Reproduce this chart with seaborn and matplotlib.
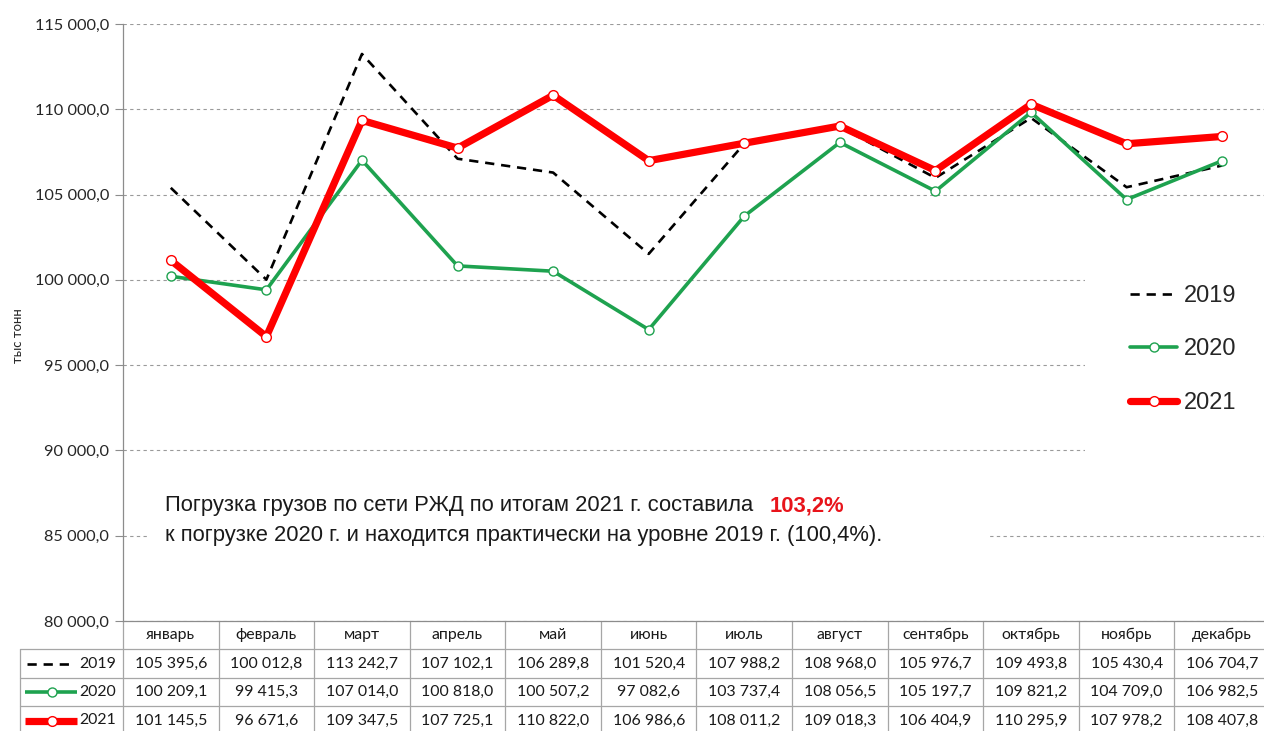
import numpy as np
import pandas as pd
import matplotlib
matplotlib.use("Agg")
import matplotlib.pyplot as plt
import seaborn as sns
from matplotlib.ticker import FuncFormatter
from matplotlib.patches import Rectangle
from matplotlib.lines import Line2D

# ---------------- data ----------------
months = ["январь", "февраль", "март", "апрель", "май", "июнь",
          "июль", "август", "сентябрь", "октябрь", "ноябрь", "декабрь"]
years = ["2019", "2020", "2021"]
v2019 = [105395.6, 100012.8, 113242.7, 107102.1, 106289.8, 101520.4,
         107988.2, 108968.0, 105976.7, 109493.8, 105430.4, 106704.7]
v2020 = [100209.1, 99415.3, 107014.0, 100818.0, 100507.2, 97082.6,
         103737.4, 108056.5, 105197.7, 109821.2, 104709.0, 106982.5]
v2021 = [101145.5, 96671.6, 109347.5, 107725.1, 110822.0, 106986.6,
         108011.2, 109018.3, 106404.9, 110295.9, 107978.2, 108407.8]
yticks = [80000, 85000, 90000, 95000, 100000, 105000, 110000, 115000]
ylabel = "тыс тонн"
note1 = "Погрузка грузов по сети РЖД по итогам 2021 г. составила"
note_pct = "103,2%"
note2 = "к погрузке 2020 г. и находится практически на уровне 2019 г. (100,4%)."

# ---------------- style ----------------
sns.set_style("white")
plt.rcParams["font.family"] = ["Lato", "DejaVu Sans"]

W, H = 1264, 731
fig = plt.figure(figsize=(W / 100, H / 100), dpi=100)

AX_L, AX_R, AX_T, AX_B = 123, 1270, 24, 621   # pixel box of the plot area
ax = fig.add_axes([AX_L / W, 1 - AX_B / H, (AX_R - AX_L) / W, (AX_B - AX_T) / H])

def fmt(v):
    return f"{v:,.1f}".replace(",", " ").replace(".", ",")

df = pd.DataFrame({"month": np.arange(len(months)),
                   "2019": v2019, "2020": v2020, "2021": v2021})

RED = "#ff0000"
GREEN = "#1ea24f"
styles = {
    "2019": dict(color="black", lw=1.9, dashes=(3.5, 2.6), marker=None),
    "2020": dict(color=GREEN, lw=2.6, marker="o", ms=6.5, mfc="white", mec=GREEN, mew=1.0),
    "2021": dict(color=RED, lw=5.2, marker="o", ms=7.0, mfc="white", mec=RED, mew=1.0),
}

for z, y in enumerate(years):
    st = styles[y]
    kw = dict(color=st["color"], linewidth=st["lw"], zorder=3 + z)
    if st["marker"]:
        kw.update(marker="o", markersize=st["ms"], markerfacecolor=st["mfc"],
                  markeredgecolor=st["mec"], markeredgewidth=st["mew"])
    sns.lineplot(data=df, x="month", y=y, ax=ax, label=y, **kw)
    if y == "2019":
        ax.lines[-1].set_dashes(st["dashes"])

ax.set_xlim(-0.5, len(months) - 0.5)
ax.set_ylim(min(yticks), max(yticks))
ax.set_yticks(yticks)
ax.yaxis.set_major_formatter(FuncFormatter(lambda v, p: fmt(v)))
ax.set_xticks([])
ax.set_xlabel("")
ax.set_ylabel("")
ax.tick_params(axis="y", length=6, width=0.8, color="#8c8c8c", labelsize=11.8,
               labelcolor="#262626", pad=4, left=True)
for s in ["top", "right"]:
    ax.spines[s].set_visible(False)
for s in ["left", "bottom"]:
    ax.spines[s].set_color("#8c8c8c")
    ax.spines[s].set_linewidth(0.9)
ax.grid(axis="y", color="#9a9a9a", linestyle=(0, (3, 3)), linewidth=0.8)
ax.set_axisbelow(True)

fig.text(18 / W, 1 - 336 / H, ylabel, rotation=90, ha="center", va="center",
         fontsize=9.5, color="#262626")

# white masks (legend area and note area)
def px_rect(x0, y0, x1, y1):
    return Rectangle((x0 / W, 1 - y1 / H), (x1 - x0) / W, (y1 - y0) / H,
                     transform=fig.transFigure, facecolor="white",
                     edgecolor="none", zorder=1, clip_on=False)
ax.add_patch(px_rect(1085, 228, 1279, 462))
ax.add_patch(px_rect(150, 472, 990, 558))

# legend
handles = [Line2D([], [], color="black", lw=1.9, dashes=(3.5, 2.6)),
           Line2D([], [], color=GREEN, lw=2.6, marker="o", ms=6.5, mfc="white", mec=GREEN),
           Line2D([], [], color=RED, lw=5.2, marker="o", ms=7.0, mfc="white", mec=RED)]
leg = ax.legend(handles, years, loc="upper left",
                bbox_to_anchor=(1130 / W, 1 - 285 / H), bbox_transform=fig.transFigure,
                frameon=False, handlelength=2.0, handletextpad=0.3,
                labelspacing=1.33, borderpad=0, borderaxespad=0,
                prop={"family": ["Liberation Sans", "DejaVu Sans"], "size": 17})
leg.set_zorder(10)

# annotation
nf = {"family": ["Liberation Sans", "DejaVu Sans"], "size": 15.8}
t1 = fig.text(165 / W, 1 - 506 / H, note1, ha="left", va="center", color="#1a1a1a", **nf)
t2 = fig.text(165 / W, 1 - 535 / H, note2, ha="left", va="center", color="#1a1a1a", **nf)
fig.canvas.draw()
bb = t1.get_window_extent()
fig.text((bb.x1 + 16) / W, 1 - 506 / H, note_pct, ha="left", va="center",
         color="#e8141b", fontweight="bold", **nf)

# ---------------- data table ----------------
def ax_y(py):
    return (AX_B - py) / (AX_B - AX_T)

xt = ax.get_xaxis_transform()
PX_PER_UNIT = (AX_R - AX_L) / len(months)
def dx(px):
    return -0.5 - (AX_L - px) / PX_PER_UNIT

rows_px = [621, 649, 678, 706, 735]
rows = [ax_y(p) for p in rows_px]
lc = "#a6a6a6"
x_left = dx(20)
x_right = len(months) - 0.5
for r in rows[1:]:
    ax.plot([x_left, x_right], [r, r], transform=xt, color=lc, lw=0.9, clip_on=False)
ax.plot([x_left, x_left], [rows[1], rows[-1]], transform=xt, color=lc, lw=0.9, clip_on=False)
for k in range(len(months) + 1):
    xv = -0.5 + k
    ax.plot([xv, xv], [rows[0], rows[-1]], transform=xt, color=lc, lw=0.9, clip_on=False)

tf = dict(ha="center", va="center", fontsize=11.4, color="#1a1a1a", transform=xt, clip_on=False)
for i, m in enumerate(months):
    ax.text(i, (rows[0] + rows[1]) / 2, m, **tf)
series = [v2019, v2020, v2021]
for r, (yl, vals) in enumerate(zip(years, series)):
    yc = (rows[r + 1] + rows[r + 2]) / 2
    for i, v in enumerate(vals):
        ax.text(i, yc, fmt(v), **tf)
    ax.text(dx(116), yc, yl, ha="right", va="center", fontsize=11.4, color="#1a1a1a",
            transform=xt, clip_on=False)
    st = styles[yl]
    if yl == "2019":
        ax.plot([dx(27), dx(70)], [yc, yc], transform=xt, color="black", lw=1.9,
                dashes=(3.5, 2.6), clip_on=False)
    else:
        ax.plot([dx(25), dx(77)], [yc, yc], transform=xt, color=st["color"], lw=st["lw"],
                clip_on=False, solid_capstyle="butt")
        ax.plot([dx(52)], [yc], transform=xt, marker="o", ms=st["ms"], mfc="white",
                mec=st["color"], mew=1.0, clip_on=False)

fig.savefig("out.png", dpi=100)
